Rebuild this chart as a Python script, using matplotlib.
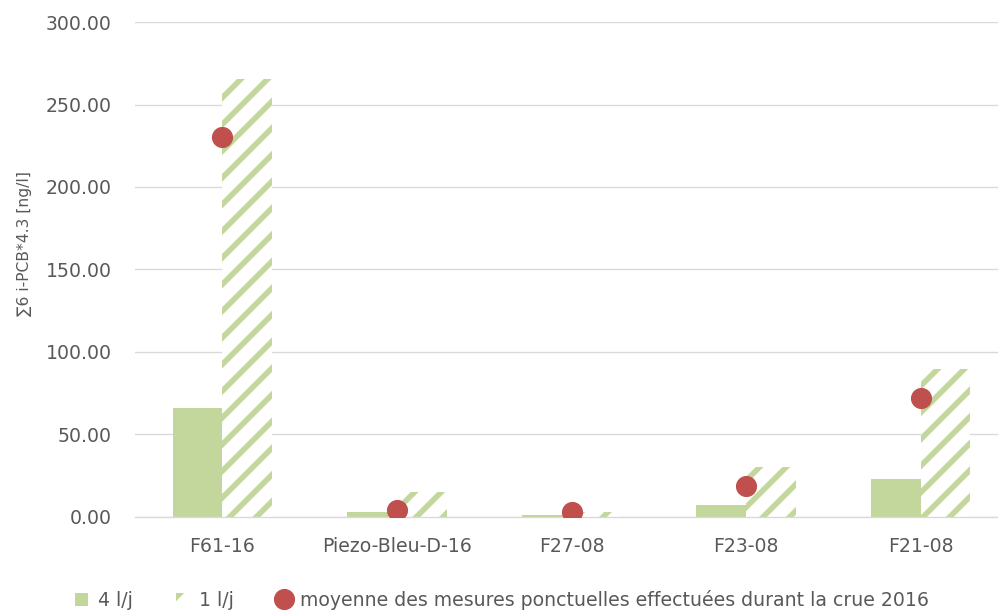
import matplotlib
matplotlib.use("Agg")
import matplotlib.pyplot as plt
import numpy as np

categories = ["F61-16", "Piezo-Bleu-D-16", "F27-08", "F23-08", "F21-08"]
vals_4lj = [66.0, 2.9, 1.1, 7.0, 22.6]
vals_1lj = [265.3, 14.7, 2.9, 29.9, 89.5]
vals_moy = [230.5, 4.0, 2.9, 18.5, 71.7]
yticks = [0, 50, 100, 150, 200, 250, 300]

GREEN = "#C3D69B"
RED = "#C0504D"
TXT = "#595959"
GRID = "#D9D9D9"

plt.rcParams["font.family"] = ["DejaVu Sans"]
plt.rcParams["hatch.linewidth"] = 5.0
plt.rcParams["hatch.color"] = GREEN

DPI = 80
W, H = 998, 611
fig = plt.figure(figsize=(W / DPI, H / DPI), dpi=DPI)
left, right = 135, 1008
top, bottom = 22.2, 516.5
ax = fig.add_axes([left / W, (H - bottom) / H, (right - left) / W, (bottom - top) / H])

x = np.arange(len(categories))
bw = 0.285
b1 = ax.bar(x - bw / 2, vals_4lj, width=bw, color=GREEN, linewidth=0, label="4 l/j", zorder=2)
b2 = ax.bar(x + bw / 2, vals_1lj, width=bw, facecolor="white", edgecolor=GREEN, hatch="/",
            linewidth=0, label="1 l/j", zorder=2)
dots, = ax.plot(x, vals_moy, linestyle="none", marker="o", markersize=18, color=RED,
                markeredgecolor=RED, zorder=3,
                label="moyenne des mesures ponctuelles effectuées durant la crue 2016")

ax.set_xlim(-0.5, len(categories) - 0.5)
ax.set_ylim(0, 300)
ax.set_yticks(yticks)
ax.set_yticklabels([f"{v:.2f}" for v in yticks])
ax.set_xticks(x)
ax.set_xticklabels(categories)
ax.tick_params(axis="both", length=0, labelsize=17, labelcolor=TXT)
ax.tick_params(axis="y", pad=21)
ax.tick_params(axis="x", pad=18)
ax.grid(axis="y", color=GRID, linewidth=1.2, zorder=0)
ax.set_axisbelow(True)
for s in ["top", "right", "left"]:
    ax.spines[s].set_visible(False)
ax.spines["bottom"].set_color(GRID)
ax.spines["bottom"].set_linewidth(1.2)

fig.text(25 / W, 1 - 244 / H, "∑6 i-PCB*4.3 [ng/l]", rotation=90, ha="center", va="center",
         fontsize=14, color=TXT)

handles = [b1, b2, dots]
labels = [h.get_label() for h in handles]
leg = fig.legend(handles, labels, loc="center left", bbox_to_anchor=(75 / W, 1 - 600 / H),
                 ncol=3, frameon=False, fontsize=17, handlelength=0.7, handleheight=0.7,
                 handletextpad=0.5, columnspacing=2.3, borderpad=0, borderaxespad=0)
for t in leg.get_texts():
    t.set_color(TXT)

fig.savefig("out.png", dpi=DPI)
